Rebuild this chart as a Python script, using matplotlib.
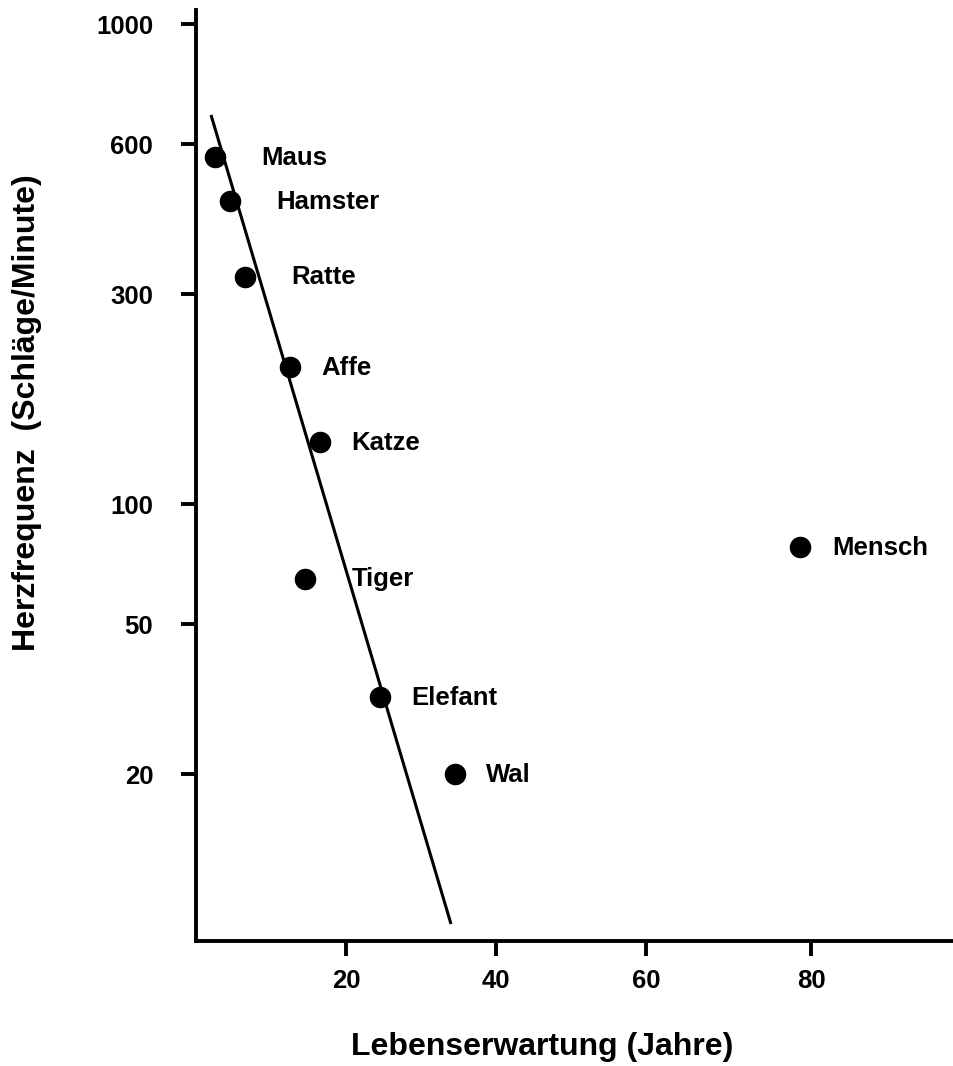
import numpy as np
import matplotlib
matplotlib.use("Agg")
import matplotlib.pyplot as plt
from matplotlib.ticker import FixedLocator, NullLocator, FixedFormatter

# ---------------- data ----------------
animals = ["Maus", "Hamster", "Ratte", "Affe", "Katze", "Tiger", "Elefant", "Wal", "Mensch"]
lifespan = [2.5, 4.5, 6.5, 12.5, 16.5, 14.5, 24.5, 34.5, 78.7]
heart_rate = [565, 460, 325, 205, 138, 65, 32, 20, 78]
fit_x = [2.0, 34.0]
fit_y = [679, 8]
y_ticks = [20, 50, 100, 300, 600, 1000]
x_ticks = [20, 40, 60, 80]
x_label = "Lebenserwartung (Jahre)"
y_label = "Herzfrequenz  (Schläge/Minute)"

# label offsets (points) and style
label_dx = [33.8, 33.6, 33.6, 22.8, 22.8, 33.6, 22.8, 22.8, 22.8]

plt.rcParams["font.family"] = ["Liberation Sans", "DejaVu Sans"]
plt.rcParams["font.weight"] = "bold"

W, H = 954, 1066
fig = plt.figure(figsize=(W / 100, H / 100), dpi=100)

# ---- piecewise scales reproducing the hand-drawn axes ----
def _pw(t, kx, kp):
    t = np.atleast_1d(np.asarray(t, dtype=float))
    out = np.interp(t, kx, kp)
    lo = t < kx[0]
    hi = t > kx[-1]
    out[lo] = kp[0] + (t[lo] - kx[0]) * (kp[1] - kp[0]) / (kx[1] - kx[0])
    out[hi] = kp[-1] + (t[hi] - kx[-1]) * (kp[-1] - kp[-2]) / (kx[-1] - kx[-2])
    return out

Y_KX = np.log10(np.array(y_ticks, dtype=float))
Y_KP = -np.array([774, 624, 504, 294, 144, 24], dtype=float)
X_KX = np.array([0, 20, 40, 60, 80], dtype=float)
X_KP = np.array([196, 346, 496, 646, 811], dtype=float)

def y_fwd(v):
    v = np.asarray(v, dtype=float)
    with np.errstate(divide="ignore", invalid="ignore"):
        lv = np.log10(np.clip(v, 1e-12, None))
    return _pw(lv, Y_KX, Y_KP).reshape(np.shape(v))

def y_inv(p):
    p = np.asarray(p, dtype=float)
    return (10 ** _pw(p, Y_KP, Y_KX)).reshape(np.shape(p))

def x_fwd(v):
    v = np.asarray(v, dtype=float)
    return _pw(v, X_KX, X_KP).reshape(np.shape(v))

def x_inv(p):
    p = np.asarray(p, dtype=float)
    return _pw(p, X_KP, X_KX).reshape(np.shape(p))

left, right, top, bottom = 196, 954, 10, 941
ax = fig.add_axes([left / W, (H - bottom) / H, (right - left) / W, (bottom - top) / H])
ax.set_xscale("function", functions=(x_fwd, x_inv))
ax.set_yscale("function", functions=(y_fwd, y_inv))
ax.set_xlim(float(x_inv(left)), float(x_inv(right)))
ax.set_ylim(float(y_inv(-bottom)), float(y_inv(-top)))

# regression line
ax.plot(fit_x, fit_y, color="black", lw=2.2, solid_capstyle="butt", zorder=2)
# points
ax.plot(lifespan, heart_rate, "o", color="black", ms=14.5, zorder=3)

for name, xv, yv, dx in zip(animals, lifespan, heart_rate, label_dx):
    ax.annotate(name, (xv, yv), xytext=(dx, -5.6), textcoords="offset points",
                ha="left", va="baseline", fontsize=18.5, fontweight="bold")

# axes styling
for s in ["top", "right"]:
    ax.spines[s].set_visible(False)
for s in ["left", "bottom"]:
    ax.spines[s].set_linewidth(2.8)

ax.yaxis.set_major_locator(FixedLocator(y_ticks))
ax.yaxis.set_major_formatter(FixedFormatter([str(t) for t in y_ticks]))
ax.yaxis.set_minor_locator(NullLocator())
ax.xaxis.set_major_locator(FixedLocator(x_ticks))
ax.xaxis.set_major_formatter(FixedFormatter([str(t) for t in x_ticks]))
ax.xaxis.set_minor_locator(NullLocator())

ax.tick_params(axis="y", direction="out", length=10.8, width=2.8, pad=20, labelsize=18.5)
ax.tick_params(axis="x", direction="out", length=10.8, width=2.8, pad=9, labelsize=18.5)
for lab in ax.get_xticklabels() + ax.get_yticklabels():
    lab.set_fontweight("bold")

fig.text(27.5 / W, 1 - 413 / H, y_label, rotation=90, ha="center", va="center",
         fontsize=23, fontweight="bold")
fig.text(542 / W, 1 - 1047 / H, x_label, ha="center", va="center",
         fontsize=23, fontweight="bold")

fig.savefig("out.png", dpi=100, facecolor="white")
